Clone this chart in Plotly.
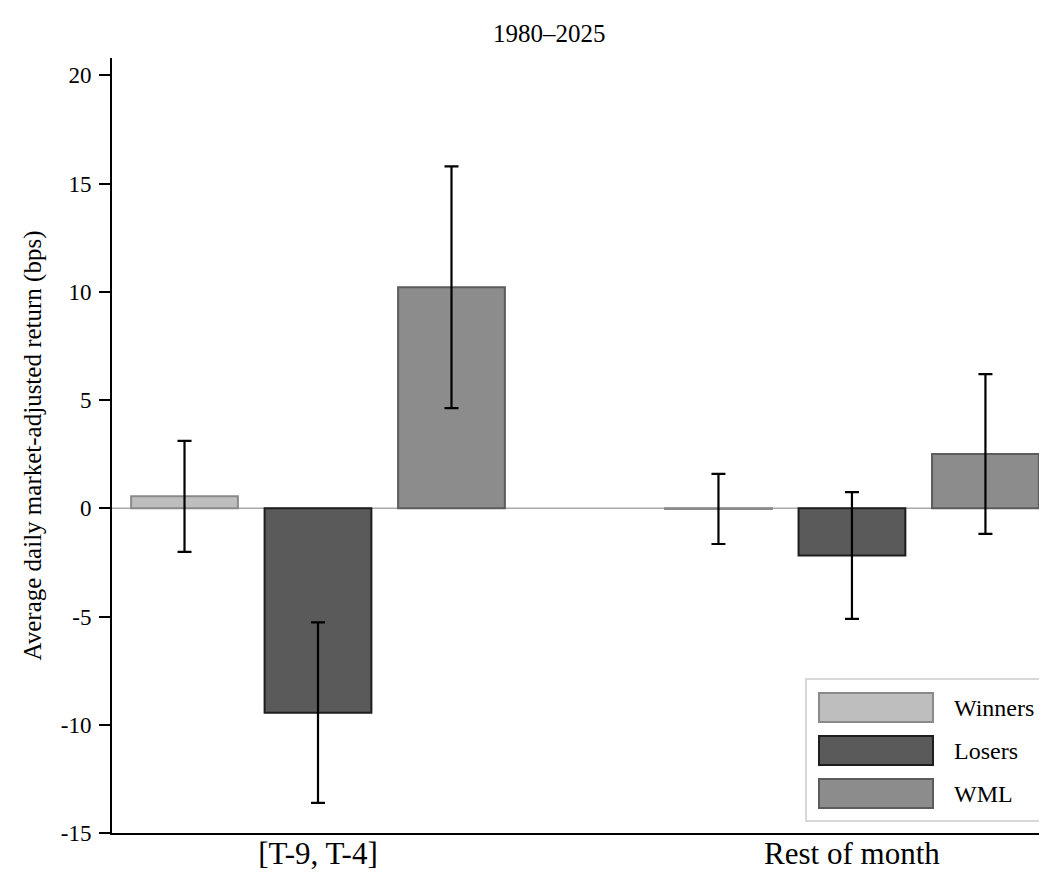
import plotly.graph_objects as go

# ---- data ----
categories = ["[T-9, T-4]", "Rest of month"]
series_names = ["Winners", "Losers", "WML"]
winners = [0.55, -0.03]
losers = [-9.44, -2.18]
wml = [10.21, 2.51]
winners_err = [2.56, 1.62]
losers_err = [4.17, 2.93]
wml_err = [5.58, 3.69]
title_text = "1980–2025"
y_title = "Average daily market-adjusted return (bps)"
y_ticks = [-15, -10, -5, 0, 5, 10, 15, 20]

fills = ["#bebebe", "#5a5a5a", "#8c8c8c"]
borders = ["#8a8a8a", "#1e1e1e", "#5c5c5c"]

FONT = "Liberation Serif"
OFF = 8  # page body margin in the browser
W, H = 1047 - OFF, 890 - 2 * OFF
ML, MT = 112 - OFF, 58 - OFF
MR = 0
MB = H - (833 - OFF)
PW, PH = W - ML - MR, H - MT - MB

fig = go.Figure()
for name, vals, errs, fc, bc in zip(series_names, [winners, losers, wml],
                                     [winners_err, losers_err, wml_err], fills, borders):
    fig.add_trace(go.Bar(
        x=categories, y=vals, name=name,
        marker=dict(color=fc, line=dict(color=bc, width=2)),
        error_y=dict(type="data", array=errs, visible=True, color="black",
                     thickness=2.2, width=7),
        showlegend=False,
    ))

# reference pixel coords -> paper coords
def px_x(p):
    return (p - OFF - ML) / PW

def px_y(p):
    return (H - MB - (p - OFF)) / PH

shapes = [
    dict(type="line", xref="paper", yref="y", x0=0, x1=1, y0=0, y1=0,
         line=dict(color="#aaaaaa", width=1.5), layer="below"),
    dict(type="rect", xref="paper", yref="paper", x0=px_x(806), x1=px_x(1046),
         y0=px_y(821), y1=px_y(679), line=dict(color="#cccccc", width=1.5),
         fillcolor="white"),
]
annotations = []
item_tops = [693, 736, 779]
for name, fc, bc, top in zip(series_names, fills, borders, item_tops):
    shapes.append(dict(type="rect", xref="paper", yref="paper",
                       x0=px_x(819), x1=px_x(933), y0=px_y(top + 29), y1=px_y(top),
                       fillcolor=fc, line=dict(color=bc, width=2)))
    annotations.append(dict(xref="paper", yref="paper", x=px_x(952), y=px_y(top + 14.5),
                            text=name, showarrow=False, xanchor="left", yanchor="middle",
                            font=dict(family=FONT, size=24, color="black")))

annotations.append(dict(xref="paper", yref="paper", x=px_x(549.5), y=px_y(33),
                        text=title_text, showarrow=False, xanchor="center", yanchor="middle",
                        font=dict(family=FONT, size=25, color="black")))

fig.update_layout(
    width=W, height=H,
    margin=dict(l=ML, r=MR, t=MT, b=MB, pad=0),
    paper_bgcolor="white", plot_bgcolor="white",
    barmode="group", bargap=0.25, bargroupgap=0.2,
    font=dict(family=FONT, color="black"),
    shapes=shapes, annotations=annotations,
    showlegend=False,
)
fig.update_xaxes(
    type="category", range=[-0.3858, 1.3653],
    showline=True, linecolor="black", linewidth=2,
    ticks="", showgrid=False, zeroline=False,
    ticklabelstandoff=-8,
    tickfont=dict(family=FONT, size=31, color="black"),
)
fig.update_yaxes(
    range=[-15, 20.8], tickvals=y_ticks,
    ticktext=[str(v) for v in y_ticks],
    showline=True, linecolor="black", linewidth=2,
    ticks="outside", ticklen=11, tickwidth=2, tickcolor="black",
    showgrid=False, zeroline=False,
    ticklabelstandoff=3,
    tickfont=dict(family=FONT, size=23, color="black"),
    title=dict(text=y_title, font=dict(family=FONT, size=25, color="black"), standoff=12),
)

fig.write_html("out.html")
